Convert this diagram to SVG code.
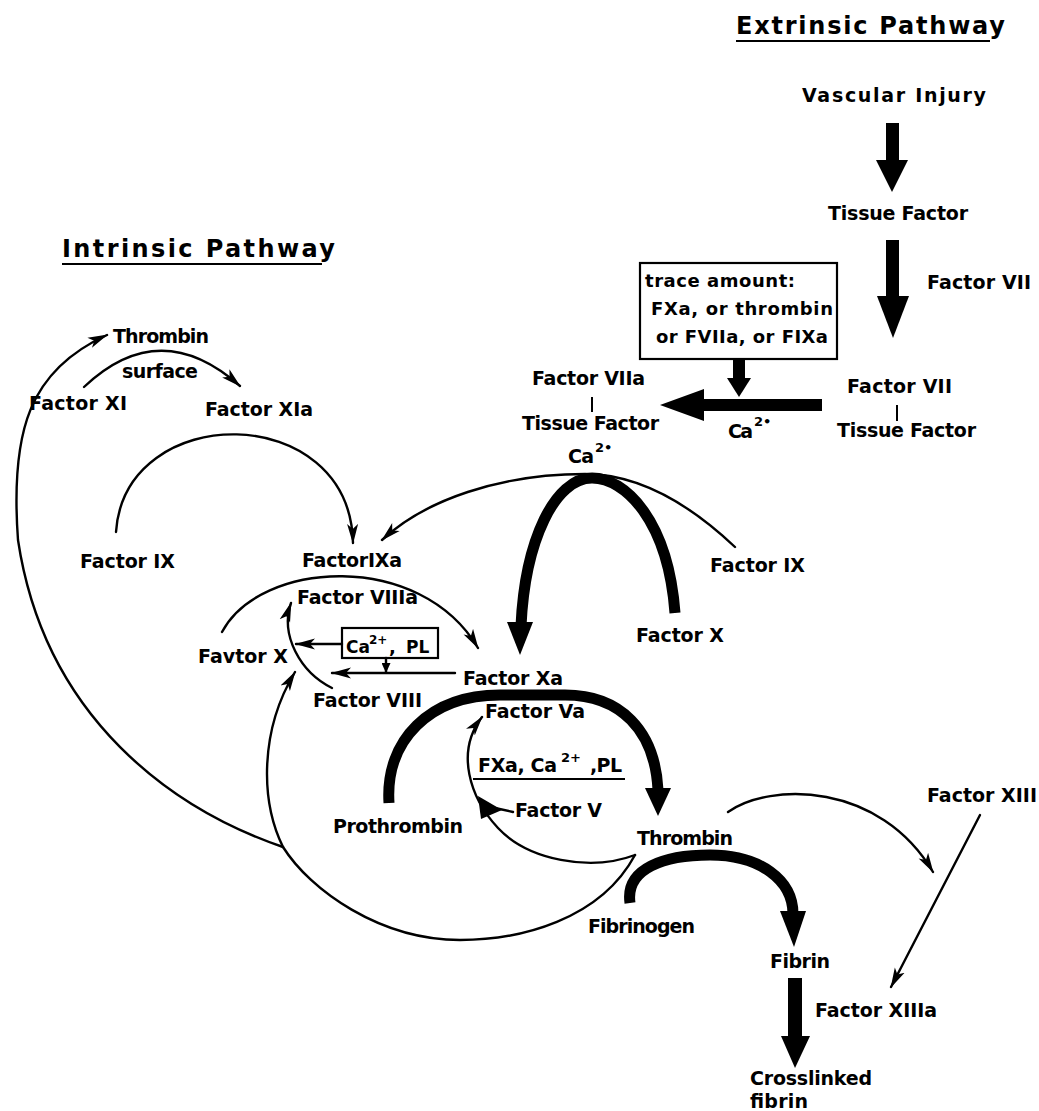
<svg xmlns="http://www.w3.org/2000/svg" width="1039" height="1111" viewBox="0 0 1039 1111">
  <style>
    text { font-family: "DejaVu Sans", "Liberation Sans", sans-serif; font-weight: bold; fill: #000; }
    .lbl { font-size: 19px; }
    .ttl { font-size: 24px; }
    .box { font-size: 18px; }
    .sup { font-size: 13px; }
    .thin { fill: none; stroke: #000; stroke-width: 2.4; stroke-linecap: round; }
    .thick { fill: none; stroke: #000; stroke-width: 11; }
    .solid { fill: #000; stroke: none; }
    .rule { stroke: #000; stroke-width: 2; }
    .frame { fill: none; stroke: #000; stroke-width: 2.2; }
  </style>
  <defs>
    <marker id="ah" viewBox="0 0 20 12" refX="19" refY="6" markerWidth="20" markerHeight="12" markerUnits="userSpaceOnUse" orient="auto">
      <path d="M0,0.5 L20,6 L0,11.5 L5,6 z" fill="#000"/>
    </marker>
    <marker id="ahs" viewBox="0 0 10 9" refX="9" refY="4.5" markerWidth="10" markerHeight="9" markerUnits="userSpaceOnUse" orient="auto">
      <path d="M0,0 L10,4.5 L0,9 z" fill="#000"/>
    </marker>
  </defs>
  <rect width="1039" height="1111" fill="#fff"/>

  <!-- headings -->
  <g id="extrinsic-title">
    <text class="ttl" x="736" y="34" textLength="269">Extrinsic Pathway</text>
    <line class="rule" x1="736" y1="41" x2="990" y2="41"/>
  </g>
  <g id="intrinsic-title">
    <text class="ttl" x="62" y="257" textLength="273">Intrinsic Pathway</text>
    <line class="rule" x1="62" y1="264" x2="322" y2="264"/>
  </g>

  <!-- extrinsic pathway nodes -->
  <g id="vascular-injury"><text class="lbl" x="802" y="102" textLength="184">Vascular Injury</text></g>
  <g id="tissue-factor"><text class="lbl" x="828" y="220" textLength="140">Tissue Factor</text></g>
  <g id="factor-vii-label"><text class="lbl" x="927" y="289" textLength="104">Factor VII</text></g>
  <g id="trace-box">
    <rect class="frame" x="640" y="263" width="197" height="96"/>
    <text class="box" x="645" y="287" textLength="150">trace amount:</text>
    <text class="box" x="651" y="315" textLength="182">FXa, or thrombin</text>
    <text class="box" x="656" y="343" textLength="172">or FVIIa, or FIXa</text>
  </g>
  <g id="fvii-tf">
    <text class="lbl" x="847" y="393" textLength="105">Factor VII</text>
    <line class="rule" x1="897" y1="405" x2="897" y2="421"/>
    <text class="lbl" x="837" y="437" textLength="139">Tissue Factor</text>
  </g>
  <g id="fviia-tf">
    <text class="lbl" x="532" y="385" textLength="113">Factor VIIa</text>
    <line class="rule" x1="592" y1="397" x2="592" y2="412"/>
    <text class="lbl" x="522" y="430" textLength="137">Tissue Factor</text>
  </g>
  <g id="ca-extrinsic">
    <text class="lbl" x="728" y="438" textLength="25">Ca</text>
    <text class="sup" x="754" y="426">2•</text>
  </g>
  <g id="ca-tenase">
    <text class="lbl" x="568" y="463" textLength="26">Ca</text>
    <text class="sup" x="595" y="452">2•</text>
  </g>

  <!-- intrinsic pathway nodes -->
  <g id="thrombin-top"><text class="lbl" x="113" y="343" textLength="96">Thrombin</text></g>
  <g id="surface"><text class="lbl" x="122" y="378" textLength="76">surface</text></g>
  <g id="factor-xi"><text class="lbl" x="29" y="410" textLength="98">Factor XI</text></g>
  <g id="factor-xia"><text class="lbl" x="205" y="416" textLength="108">Factor XIa</text></g>
  <g id="factor-ix-left"><text class="lbl" x="80" y="568" textLength="95">Factor IX</text></g>
  <g id="factor-ixa"><text class="lbl" x="302" y="567" textLength="100">FactorIXa</text></g>
  <g id="factor-ix-right"><text class="lbl" x="710" y="572" textLength="95">Factor IX</text></g>
  <g id="factor-x"><text class="lbl" x="636" y="642" textLength="88">Factor X</text></g>
  <g id="factor-viiia"><text class="lbl" x="297" y="604" textLength="121">Factor VIIIa</text></g>
  <g id="favtor-x"><text class="lbl" x="198" y="663" textLength="90">Favtor X</text></g>
  <g id="factor-viii"><text class="lbl" x="313" y="707" textLength="109">Factor VIII</text></g>
  <g id="factor-xa"><text class="lbl" x="463" y="685" textLength="100">Factor Xa</text></g>
  <g id="ca-pl-box">
    <rect class="frame" x="342" y="628" width="96" height="30"/>
    <text class="box" x="346" y="653" style="font-size:17px">Ca</text>
    <text class="sup" x="369" y="644" style="font-size:12px">2+</text>
    <text class="box" x="389" y="653">,</text>
    <text class="box" x="406" y="653" style="font-size:17px">PL</text>
  </g>

  <!-- common pathway nodes -->
  <g id="factor-va"><text class="lbl" x="485" y="718" textLength="100">Factor Va</text></g>
  <g id="prothrombinase">
    <text class="lbl" x="478" y="772" textLength="79">FXa, Ca</text>
    <text class="sup" x="561" y="762">2+</text>
    <text class="lbl" x="590" y="772" textLength="32">,PL</text>
    <line class="rule" x1="473" y1="779" x2="625" y2="779"/>
  </g>
  <g id="factor-v"><text class="lbl" x="515" y="817" textLength="87">Factor V</text></g>
  <g id="prothrombin"><text class="lbl" x="333" y="833" textLength="130">Prothrombin</text></g>
  <g id="thrombin"><text class="lbl" x="637" y="845" textLength="96">Thrombin</text></g>
  <g id="factor-xiii"><text class="lbl" x="927" y="802" textLength="110">Factor XIII</text></g>
  <g id="fibrinogen"><text class="lbl" x="588" y="933" textLength="107">Fibrinogen</text></g>
  <g id="fibrin"><text class="lbl" x="770" y="968" textLength="60">Fibrin</text></g>
  <g id="factor-xiiia"><text class="lbl" x="815" y="1017" textLength="122">Factor XIIIa</text></g>
  <g id="crosslinked-fibrin">
    <text class="lbl" x="750" y="1085" textLength="122">Crosslinked</text>
    <text class="lbl" x="750" y="1108" textLength="58">fibrin</text>
  </g>

  <g id="connectors">
    <!-- extrinsic block arrows -->
    <rect class="solid" x="886" y="123" width="13" height="40"/>
    <polygon class="solid" points="876,160 908,160 892,192"/>
    <rect class="solid" x="886" y="240" width="13" height="58"/>
    <polygon class="solid" points="877,296 909,296 893,338"/>
    <rect class="solid" x="733" y="359" width="12" height="21"/>
    <polygon class="solid" points="727,378 751,378 739,397"/>
    <rect class="solid" x="700" y="399" width="122" height="12"/>
    <polygon class="solid" points="704,389 704,421 660,405"/>

    <!-- thick conversion arcs -->
    <path class="thick" d="M675 613 C668 520 625 478 592 478 C555 478 525 540 521 626"/>
    <polygon class="solid" points="507,622 533,622 520,655"/>
    <path class="thick" d="M389 803 C385 740 430 695 500 695 L565 695 C620 695 655 730 658 790"/>
    <polygon class="solid" points="645,788 671,788 658,816"/>
    <path class="thick" d="M630 903 C625 868 665 855 710 855 C760 855 793 880 793 914"/>
    <polygon class="solid" points="780,911 806,911 794,947"/>
    <rect class="solid" x="788" y="978" width="14" height="62"/>
    <polygon class="solid" points="781,1036 810,1036 795,1068"/>

    <!-- thin arrows -->
    <path class="thin" marker-end="url(#ah)" d="M283 847 C175 810 45 720 18 540 C10 430 30 370 107 335"/>
    <path class="thin" marker-end="url(#ah)" d="M84 387 Q160 315 240 386"/>
    <path class="thin" marker-end="url(#ah)" d="M116 532 C125 400 350 400 353 543"/>
    <path class="thin" marker-end="url(#ah)" d="M735 547 C680 495 630 474 585 474 C500 474 425 500 382 540"/>
    <path class="thin" marker-end="url(#ah)" d="M222 632 C260 560 420 550 478 648"/>
    <path class="thin" marker-end="url(#ah)" d="M332 688 C300 672 280 635 291 603"/>
    <path class="thin" marker-end="url(#ah)" d="M342 644 L296 644"/>
    <path class="thin" marker-end="url(#ahs)" d="M386 658 L386 672"/>
    <path class="thin" marker-end="url(#ah)" d="M455 673 L332 673"/>
    <path class="thin" marker-end="url(#ah)" d="M635 855 C600 920 520 940 460 940 C380 940 310 890 283 847 C260 800 260 730 295 672"/>
    <path class="thin" marker-end="url(#ah)" d="M635 855 C590 872 528 860 498 828 C470 798 455 752 482 717"/>
    <path class="thin" d="M513 812 L495 808"/>
    <polygon class="solid" points="478,796 481,819 502,810"/>
    <path class="thin" marker-end="url(#ah)" d="M728 812 C770 782 880 782 933 872"/>
    <path class="thin" marker-end="url(#ah)" d="M980 815 L891 987"/>
  </g>
</svg>
